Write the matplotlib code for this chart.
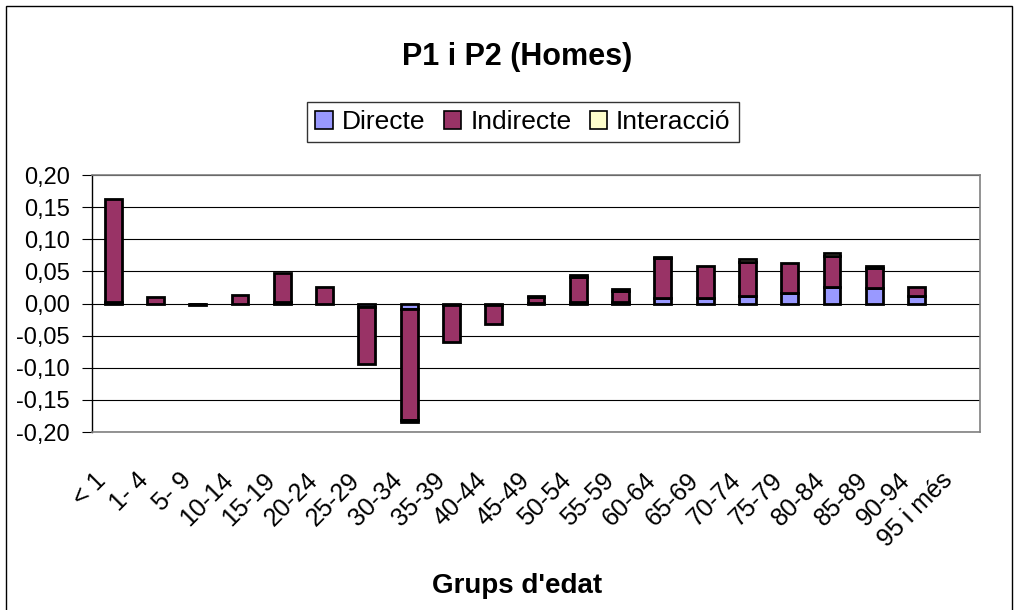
import matplotlib
matplotlib.use("Agg")
import matplotlib.pyplot as plt
import numpy as np
from matplotlib.patches import Rectangle, Patch
from matplotlib.ticker import FuncFormatter
from matplotlib.transforms import ScaledTranslation

categories = ['< 1', '1- 4', '5- 9', '10-14', '15-19', '20-24', '25-29', '30-34',
              '35-39', '40-44', '45-49', '50-54', '55-59', '60-64', '65-69',
              '70-74', '75-79', '80-84', '85-89', '90-94', '95 i més']
directe = [0.002, 0.000, -0.001, 0.000, 0.003, 0.000, -0.005, -0.009, -0.003, -0.003,
           0.001, 0.002, 0.002, 0.009, 0.009, 0.012, 0.016, 0.025, 0.024, 0.012, 0.0]
indirecte = [0.160, 0.010, -0.002, 0.013, 0.044, 0.025, -0.089, -0.173, -0.057, -0.029,
             0.009, 0.039, 0.018, 0.062, 0.050, 0.053, 0.047, 0.049, 0.031, 0.013, 0.0]
interaccio = [0.0, 0.0, 0.0, 0.0, 0.0, 0.0, 0.0, -0.003, 0.0, 0.0,
              0.002, 0.003, 0.002, 0.001, 0.0, 0.004, 0.0, 0.004, 0.004, 0.0, 0.0]
series_names = ['Directe', 'Indirecte', 'Interacció']
series_colors = ['#9999FF', '#993366', '#FFFFCC']

plt.rcParams['font.family'] = ['Liberation Sans', 'DejaVu Sans']

W, H = 1014, 610
fig = plt.figure(figsize=(W / 100, H / 100), dpi=100)
ax = fig.add_axes([92 / W, 1 - 432 / H, (980 - 92) / W, (432 - 175) / H])

x = np.arange(len(categories))
pos_base = np.zeros(len(categories))
neg_base = np.zeros(len(categories))
for vals, name, col in zip([directe, indirecte, interaccio], series_names, series_colors):
    v = np.array(vals)
    bottom = np.where(v >= 0, pos_base, neg_base)
    lw = np.where(v != 0, 2.0, 0.0)
    ax.bar(x, v, width=0.4, bottom=bottom, color=col, edgecolor='black',
           linewidth=lw, zorder=3)
    pos_base += np.where(v > 0, v, 0)
    neg_base += np.where(v < 0, v, 0)

ax.set_xlim(-0.5, len(categories) - 0.5)
ax.set_ylim(-0.2, 0.2)
ax.set_yticks(np.arange(-0.20, 0.2001, 0.05))
ax.yaxis.set_major_formatter(FuncFormatter(lambda v, p: f"{v:.2f}".replace('.', ',').replace('-0,00', '0,00')))
ax.grid(axis='y', color='black', linewidth=0.8, zorder=1)
ax.tick_params(axis='y', direction='out', length=7, width=0.8, labelsize=17, pad=9)
ax.set_xticks(x)
ax.set_xticklabels(categories, rotation=45, ha='right', va='top',
                   rotation_mode='anchor', fontsize=18)
ax.tick_params(axis='x', length=0, pad=0)
offset = ScaledTranslation(-19 / 100, -36 / 100, fig.dpi_scale_trans)
for lab in ax.get_xticklabels():
    lab.set_transform(lab.get_transform() + offset)

for s in ['top', 'right', 'bottom']:
    ax.spines[s].set_color('#808080')
    ax.spines[s].set_linewidth(1.2)
ax.spines['left'].set_color('black')
ax.spines['left'].set_linewidth(1.0)

fig.text(517 / W, 1 - 57 / H, 'P1 i P2 (Homes)', ha='center', va='center',
         fontsize=22, fontweight='bold')
fig.text(517 / W, 1 - 586 / H, "Grups d'edat", ha='center', va='center',
         fontsize=20, fontweight='bold')

handles = [Patch(facecolor=c, edgecolor='black', linewidth=1.2) for c in series_colors]
leg = fig.legend(handles, series_names, loc='center', bbox_to_anchor=(523 / W, 1 - 122 / H),
                 ncol=3, fontsize=19, frameon=True, fancybox=False, edgecolor='black',
                 handlelength=0.65, handleheight=0.65, handletextpad=0.35,
                 columnspacing=0.7, borderpad=0.3)
leg.get_frame().set_linewidth(1.0)

fig.patches.append(Rectangle((6 / W, -0.01), (1012 - 6) / W, 1.01 - 5.5 / H,
                             transform=fig.transFigure, fill=False,
                             edgecolor='black', linewidth=1.0))

fig.savefig('out.png', dpi=100)
